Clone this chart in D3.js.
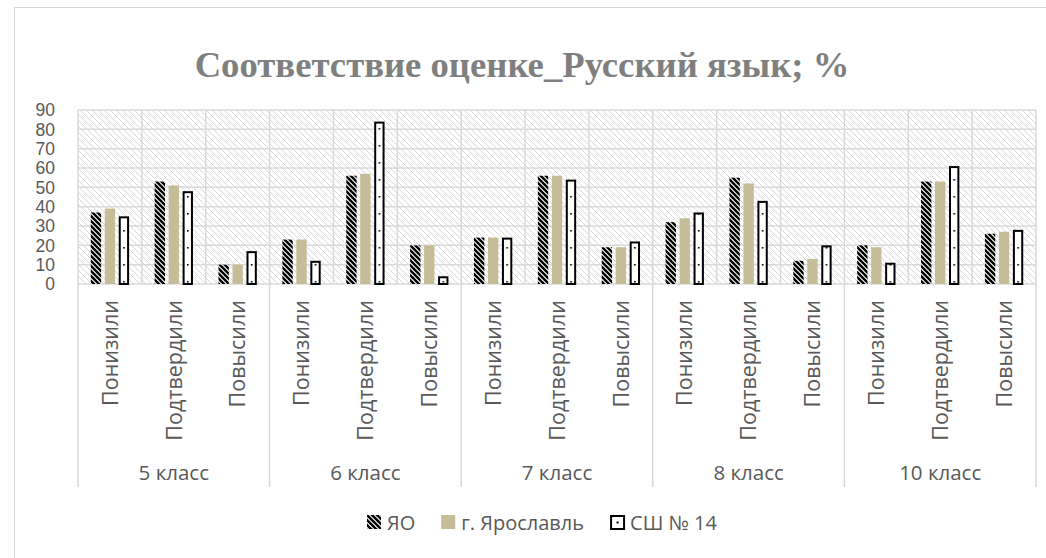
<!DOCTYPE html>
<html>
<head>
	<meta http-equiv="Content-Type" content="text/html;charset=utf-8">
	<title>Соответствие оценке</title>
	<script type="text/javascript" src="https://d3js.org/d3.v7.min.js"></script>
	<style type="text/css">
		body {
			margin: 0;
			background: white;
		}
		.chart text {
			font-family: "Open Sans", sans-serif;
			fill: #595959;
		}
		.chart .title {
			font-family: "Liberation Serif", serif;
			font-weight: bold;
			fill: #7f7f7f;
		}
		.chart .ytick {
			font-family: "Liberation Sans", sans-serif;
		}
		.grid line {
			stroke: #d9d9d9;
			stroke-width: 1.5;
		}
	</style>
</head>
<body>
	<svg class="chart" id="chart" width="1046" height="558"></svg>
	<script type="text/javascript">
		// data
		var groups = ["5 класс", "6 класс", "7 класс", "8 класс", "10 класс"];
		var subcats = ["Понизили", "Подтвердили", "Повысили"];
		var seriesNames = ["ЯО", "г. Ярославль", "СШ № 14"];
		var yo   = [37, 53, 10, 23, 56, 20, 24, 56, 19, 32, 55, 12, 20, 53, 26];
		var yar  = [39, 51, 10, 23, 57, 20, 24, 56, 19, 34, 52, 13, 19, 53, 27];
		var sh14 = [35, 48, 17, 12, 84, 4, 24, 54, 22, 37, 43, 20, 11, 61, 28];
		var yTicks = [0, 10, 20, 30, 40, 50, 60, 70, 80, 90];

		var series = [yo, yar, sh14];
		var cats = [];
		groups.forEach(function(g) {
			subcats.forEach(function(s) { cats.push(g + "|" + s); });
		});

		var W = 1046, H = 558;
		var m = {left: 78, right: 1036, top: 110, bottom: 284};
		var svg = d3.select("#chart");
		var defs = svg.append("defs");

		// plot background hatch
		var bg = defs.append("pattern")
			.attr("id", "bgHatch")
			.attr("patternUnits", "userSpaceOnUse")
			.attr("width", 6).attr("height", 6);
		bg.append("rect").attr("width", 6).attr("height", 6).attr("fill", "white");
		bg.append("path").attr("d", "M0,0L6,6M-3,3L3,9M3,-3L9,3")
			.attr("stroke", "#d9d9d9").attr("stroke-width", 1);

		// ЯО hatch
		var hp = defs.append("pattern")
			.attr("id", "yoHatch")
			.attr("patternUnits", "userSpaceOnUse")
			.attr("width", 5).attr("height", 5);
		hp.append("rect").attr("width", 5).attr("height", 5).attr("fill", "white");
		hp.append("path").attr("d", "M0,0L5,5M-2.5,2.5L2.5,7.5M2.5,-2.5L7.5,2.5")
			.attr("stroke", "black").attr("stroke-width", 2.4);

		// outer chart border
		svg.append("rect")
			.attr("x", 14.5).attr("y", 7.5)
			.attr("width", W).attr("height", H)
			.attr("fill", "none").attr("stroke", "#d9d9d9");

		var title = svg.append("text")
			.attr("class", "title")
			.attr("x", 522).attr("y", 77)
			.attr("text-anchor", "middle")
			.style("font-size", "40px")
			.text("Соответствие оценке_Русский язык; %");
		// fit the title to the width it has in the picture
		var tl = title.node().getComputedTextLength();
		title.style("font-size", (40 * 655 / tl) + "px");

		var x0 = d3.scaleBand().domain(cats).range([m.left, m.right]);
		var bw = x0.bandwidth();
		var x1 = d3.scaleBand().domain(d3.range(3)).range([bw * 0.2, bw * 0.8]).paddingInner(0.26);
		var y = d3.scaleLinear().domain([0, 90]).range([m.bottom, m.top]);

		svg.append("rect")
			.attr("x", m.left).attr("y", m.top)
			.attr("width", m.right - m.left).attr("height", m.bottom - m.top)
			.attr("fill", "url(#bgHatch)");

		var grid = svg.append("g").attr("class", "grid");
		grid.selectAll(".h").data(yTicks).join("line")
			.attr("x1", m.left).attr("x2", m.right)
			.attr("y1", function(d) { return y(d); })
			.attr("y2", function(d) { return y(d); });
		var bounds = cats.map(function(c) { return x0(c); }).concat([m.right]);
		grid.selectAll(".v").data(bounds).join("line")
			.attr("x1", function(d) { return d; }).attr("x2", function(d) { return d; })
			.attr("y1", m.top)
			.attr("y2", function(d, i) { return i % 3 == 0 ? 487 : m.bottom; });

		// y axis labels
		svg.append("g").selectAll("text").data(yTicks).join("text")
			.attr("class", "ytick")
			.attr("x", 55)
			.attr("y", function(d) { return y(d); })
			.attr("dy", "0.36em")
			.attr("text-anchor", "end")
			.style("font-size", "17.5px")
			.text(function(d) { return d; });

		// bars
		var fills = ["url(#yoHatch)", "#c4bd97", "white"];
		series.forEach(function(vals, si) {
			var g = svg.append("g");
			vals.forEach(function(v, ci) {
				var bx = x0(cats[ci]) + x1(si);
				if (si == 2) {
					var pid = "dots" + ci;
					var p = defs.append("pattern")
						.attr("id", pid)
						.attr("patternUnits", "userSpaceOnUse")
						.attr("x", bx + x1.bandwidth() / 2 - 0.8)
						.attr("y", m.bottom - 3)
						.attr("width", 40).attr("height", 17);
					p.append("rect").attr("width", 40).attr("height", 17).attr("fill", "white");
					p.append("rect").attr("width", 1.6).attr("height", 1.6).attr("fill", "black");
					g.append("rect")
						.attr("x", bx + 1).attr("y", y(v) + 1)
						.attr("width", x1.bandwidth() - 2)
						.attr("height", y(0) - y(v) - 1)
						.attr("fill", "url(#" + pid + ")")
						.attr("stroke", "black").attr("stroke-width", 2);
				} else {
					g.append("rect")
						.attr("x", bx).attr("y", y(v))
						.attr("width", x1.bandwidth())
						.attr("height", y(0) - y(v))
						.attr("fill", fills[si]);
				}
			});
		});

		// category labels
		svg.append("g").selectAll("text").data(cats).join("text")
			.attr("transform", function(d) {
				return "translate(" + (x0(d) + bw / 2) + ",300) rotate(-90)";
			})
			.attr("dy", "0.36em")
			.attr("text-anchor", "end")
			.style("font-size", "21.5px")
			.text(function(d) { return d.split("|")[1]; });

		svg.append("g").selectAll("text").data(groups).join("text")
			.attr("x", function(d) { return x0(d + "|" + subcats[1]) + bw / 2; })
			.attr("y", 480)
			.attr("text-anchor", "middle")
			.style("font-size", "20.5px")
			.text(function(d) { return d; });

		// legend
		var leg = svg.append("g");
		var lx = 367;
		seriesNames.forEach(function(n, i) {
			var item = leg.append("g").attr("transform", "translate(" + lx + ",0)");
			item.append("rect")
				.attr("x", i == 2 ? 1 : 0).attr("y", i == 2 ? 516 : 515)
				.attr("width", i == 2 ? 13 : 14).attr("height", i == 2 ? 13 : 14)
				.attr("fill", i == 2 ? "white" : fills[i])
				.attr("stroke", i == 2 ? "black" : "none")
				.attr("stroke-width", 2);
			if (i == 2) item.append("rect").attr("x", 6.5).attr("y", 521.5).attr("width", 2).attr("height", 2);
			var t = item.append("text")
				.attr("x", 20).attr("y", 530)
				.style("font-size", "20px")
				.text(n);
			lx += 20 + t.node().getComputedTextLength() + 26;
		});
	</script>
</body>
</html>
